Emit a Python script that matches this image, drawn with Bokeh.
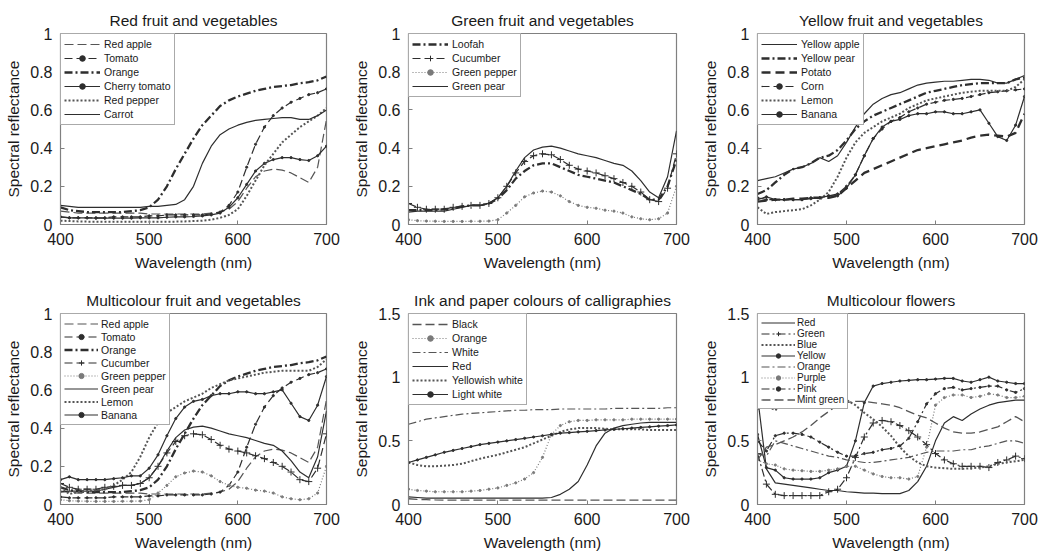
from bokeh.plotting import figure
from bokeh.models import Range1d, FixedTicker, Legend, LegendItem
from bokeh.layouts import row, column
from bokeh.embed import file_html
from bokeh.resources import INLINE

# ---------------- data ----------------
WAVELENGTH = [400, 410, 420, 430, 440, 450, 460, 470, 480, 490, 500, 510, 520, 530, 540, 550,
              560, 570, 580, 590, 600, 610, 620, 630, 640, 650, 660, 670, 680, 690, 700]

X_TICKS = [400, 500, 600, 700]
X_TICK_LABELS = ["400", "500", "600", "700"]
Y_TICKS_A = [0, 0.2, 0.4, 0.6, 0.8, 1]
Y_TICK_LABELS_A = ["0", "0.2", "0.4", "0.6", "0.8", "1"]
Y_TICKS_B = [0, 0.5, 1, 1.5]
Y_TICK_LABELS_B = ["0", "0.5", "1", "1.5"]

# fruit & vegetables
red_apple = [0.07, 0.065, 0.06, 0.06, 0.06, 0.06, 0.06, 0.06, 0.06, 0.06, 0.055, 0.055, 0.055, 0.055, 0.055, 0.055,
             0.055, 0.06, 0.065, 0.08, 0.12, 0.19, 0.25, 0.28, 0.29, 0.285, 0.27, 0.245, 0.22, 0.3, 0.55]
tomato = [0.04, 0.035, 0.035, 0.035, 0.035, 0.035, 0.04, 0.04, 0.04, 0.04, 0.045, 0.045, 0.05, 0.05, 0.05, 0.05,
          0.05, 0.055, 0.065, 0.1, 0.17, 0.3, 0.42, 0.51, 0.57, 0.61, 0.64, 0.66, 0.68, 0.69, 0.71]
orange = [0.09, 0.075, 0.07, 0.065, 0.065, 0.065, 0.065, 0.065, 0.07, 0.075, 0.09, 0.13, 0.2, 0.29, 0.37, 0.45,
          0.52, 0.57, 0.62, 0.65, 0.67, 0.685, 0.7, 0.71, 0.72, 0.725, 0.73, 0.74, 0.745, 0.755, 0.775]
cherry_tomato = [0.04, 0.035, 0.035, 0.035, 0.033, 0.033, 0.033, 0.033, 0.033, 0.035, 0.035, 0.035, 0.038, 0.04, 0.04, 0.042,
                 0.045, 0.05, 0.06, 0.09, 0.14, 0.21, 0.28, 0.32, 0.34, 0.35, 0.35, 0.34, 0.335, 0.36, 0.41]
red_pepper = [0.02, 0.018, 0.016, 0.015, 0.015, 0.015, 0.015, 0.015, 0.015, 0.015, 0.015, 0.015, 0.015, 0.015, 0.016, 0.018,
              0.02, 0.025, 0.035, 0.05, 0.08, 0.15, 0.23, 0.31, 0.37, 0.43, 0.47, 0.51, 0.54, 0.57, 0.61]
carrot = [0.1, 0.095, 0.09, 0.09, 0.09, 0.09, 0.09, 0.09, 0.09, 0.09, 0.095, 0.095, 0.1, 0.105, 0.13, 0.2,
          0.32, 0.41, 0.47, 0.5, 0.52, 0.535, 0.545, 0.55, 0.555, 0.56, 0.56, 0.55, 0.55, 0.57, 0.6]

loofah = [0.075, 0.075, 0.075, 0.075, 0.08, 0.085, 0.095, 0.1, 0.1, 0.11, 0.135, 0.18, 0.24, 0.28, 0.31, 0.32,
          0.32, 0.3, 0.28, 0.26, 0.25, 0.24, 0.23, 0.22, 0.2, 0.18, 0.16, 0.13, 0.13, 0.2, 0.34]
cucumber = [0.11, 0.09, 0.08, 0.08, 0.08, 0.09, 0.095, 0.1, 0.1, 0.11, 0.14, 0.2, 0.27, 0.33, 0.36, 0.37,
            0.365, 0.34, 0.31, 0.29, 0.28, 0.27, 0.255, 0.24, 0.22, 0.2, 0.17, 0.13, 0.12, 0.19, 0.37]
green_pepper = [0.025, 0.02, 0.018, 0.017, 0.016, 0.016, 0.016, 0.017, 0.017, 0.018, 0.025, 0.06, 0.1, 0.145, 0.165, 0.175,
                0.17, 0.15, 0.12, 0.1, 0.09, 0.085, 0.075, 0.07, 0.06, 0.04, 0.03, 0.025, 0.03, 0.06, 0.2]
green_pear = [0.065, 0.07, 0.07, 0.07, 0.07, 0.08, 0.09, 0.1, 0.1, 0.11, 0.14, 0.2, 0.28, 0.35, 0.39, 0.405,
              0.41, 0.4, 0.385, 0.37, 0.36, 0.35, 0.335, 0.32, 0.31, 0.28, 0.23, 0.17, 0.14, 0.25, 0.49]

yellow_apple = [0.23, 0.24, 0.25, 0.27, 0.29, 0.3, 0.32, 0.35, 0.33, 0.36, 0.43, 0.51, 0.58, 0.63, 0.66, 0.68,
                0.69, 0.71, 0.73, 0.74, 0.745, 0.75, 0.75, 0.755, 0.76, 0.76, 0.755, 0.74, 0.74, 0.76, 0.78]
yellow_pear = [0.16, 0.18, 0.22, 0.26, 0.29, 0.3, 0.32, 0.35, 0.36, 0.39, 0.44, 0.5, 0.54, 0.57, 0.59, 0.61,
               0.63, 0.65, 0.67, 0.69, 0.7, 0.71, 0.72, 0.73, 0.735, 0.74, 0.74, 0.74, 0.74, 0.76, 0.77]
potato = [0.12, 0.125, 0.13, 0.13, 0.135, 0.135, 0.14, 0.14, 0.14, 0.15, 0.19, 0.23, 0.27, 0.29, 0.31, 0.33,
          0.35, 0.37, 0.39, 0.4, 0.41, 0.42, 0.43, 0.44, 0.455, 0.465, 0.47, 0.465, 0.46, 0.48, 0.58]
corn = [0.14, 0.13, 0.13, 0.13, 0.13, 0.13, 0.14, 0.14, 0.15, 0.16, 0.2, 0.26, 0.36, 0.45, 0.5, 0.54,
        0.56, 0.59, 0.61, 0.63, 0.64, 0.65, 0.655, 0.66, 0.67, 0.68, 0.69, 0.695, 0.7, 0.705, 0.71]
lemon = [0.09, 0.055, 0.065, 0.07, 0.075, 0.08, 0.1, 0.13, 0.17, 0.25, 0.35, 0.43, 0.48, 0.51, 0.54, 0.56,
         0.58, 0.61, 0.63, 0.65, 0.66, 0.67, 0.68, 0.69, 0.695, 0.7, 0.7, 0.7, 0.7, 0.72, 0.76]
banana = [0.13, 0.145, 0.13, 0.13, 0.13, 0.13, 0.135, 0.14, 0.15, 0.15, 0.19, 0.26, 0.36, 0.45, 0.51, 0.54,
          0.55, 0.57, 0.58, 0.58, 0.59, 0.59, 0.58, 0.58, 0.59, 0.6, 0.53, 0.46, 0.44, 0.52, 0.67]

# calligraphy inks and papers
ink_black = [0.045, 0.04, 0.038, 0.036, 0.035, 0.035, 0.035, 0.035, 0.035, 0.035, 0.035, 0.035, 0.035, 0.035, 0.035, 0.035,
             0.035, 0.035, 0.035, 0.035, 0.035, 0.035, 0.035, 0.035, 0.035, 0.035, 0.035, 0.035, 0.035, 0.035, 0.035]
ink_orange = [0.12, 0.11, 0.105, 0.1, 0.1, 0.1, 0.1, 0.105, 0.11, 0.12, 0.13, 0.15, 0.17, 0.2, 0.25, 0.37,
              0.55, 0.62, 0.65, 0.66, 0.66, 0.665, 0.665, 0.665, 0.665, 0.67, 0.67, 0.67, 0.67, 0.67, 0.67]
ink_white = [0.63, 0.65, 0.67, 0.68, 0.69, 0.7, 0.71, 0.715, 0.72, 0.725, 0.73, 0.735, 0.74, 0.74, 0.745, 0.745,
             0.745, 0.75, 0.75, 0.75, 0.75, 0.75, 0.75, 0.755, 0.755, 0.755, 0.755, 0.755, 0.755, 0.76, 0.76]
ink_red = [0.06, 0.055, 0.05, 0.05, 0.05, 0.05, 0.05, 0.05, 0.05, 0.05, 0.05, 0.05, 0.05, 0.05, 0.05, 0.05,
           0.055, 0.08, 0.12, 0.18, 0.31, 0.46, 0.56, 0.6, 0.62, 0.63, 0.64, 0.645, 0.645, 0.645, 0.645]
ink_yellowish_white = [0.33, 0.31, 0.3, 0.3, 0.305, 0.31, 0.32, 0.34, 0.36, 0.375, 0.39, 0.41, 0.43, 0.45, 0.48, 0.51,
                       0.54, 0.57, 0.59, 0.6, 0.6, 0.6, 0.595, 0.59, 0.59, 0.59, 0.59, 0.585, 0.585, 0.585, 0.585]
ink_light_white = [0.33, 0.35, 0.37, 0.39, 0.41, 0.425, 0.44, 0.455, 0.47, 0.48, 0.49, 0.5, 0.51, 0.52, 0.53, 0.54,
                   0.55, 0.56, 0.565, 0.57, 0.575, 0.58, 0.585, 0.59, 0.595, 0.6, 0.605, 0.61, 0.615, 0.62, 0.625]

# flowers
flower_red = [0.85, 0.28, 0.17, 0.16, 0.15, 0.14, 0.13, 0.12, 0.11, 0.11, 0.1, 0.095, 0.09, 0.09, 0.085, 0.085,
              0.085, 0.11, 0.18, 0.3, 0.5, 0.64, 0.69, 0.66, 0.71, 0.75, 0.78, 0.8, 0.81, 0.82, 0.82]
flower_green = [0.4, 0.16, 0.08, 0.07, 0.07, 0.07, 0.07, 0.07, 0.1, 0.12, 0.21, 0.37, 0.53, 0.64, 0.66, 0.65,
                0.62, 0.58, 0.53, 0.47, 0.4, 0.35, 0.32, 0.3, 0.3, 0.3, 0.29, 0.33, 0.35, 0.38, 0.36]
flower_blue = [0.75, 0.78, 0.74, 0.8, 0.83, 0.84, 0.85, 0.85, 0.84, 0.83, 0.82, 0.78, 0.72, 0.67, 0.61, 0.54,
               0.45, 0.38, 0.33, 0.3, 0.29, 0.285, 0.28, 0.28, 0.285, 0.29, 0.3, 0.32, 0.33, 0.34, 0.35]
flower_yellow = [0.55, 0.29, 0.27, 0.21, 0.2, 0.2, 0.2, 0.21, 0.25, 0.27, 0.3, 0.5, 0.8, 0.93, 0.95, 0.96,
                 0.97, 0.975, 0.98, 0.98, 0.985, 0.99, 0.99, 0.97, 0.96, 0.98, 1.0, 0.97, 0.96, 0.95, 0.95]
flower_orange = [0.4, 0.38, 0.5, 0.48, 0.46, 0.44, 0.42, 0.4, 0.38, 0.37, 0.35, 0.34, 0.33, 0.33, 0.34, 0.35,
                 0.36, 0.37, 0.39, 0.41, 0.42, 0.42, 0.42, 0.43, 0.43, 0.45, 0.46, 0.48, 0.5, 0.5, 0.48]
flower_purple = [0.35, 0.32, 0.31, 0.28, 0.27, 0.265, 0.26, 0.26, 0.27, 0.28, 0.3, 0.3, 0.27, 0.24, 0.22, 0.21,
                 0.21, 0.2, 0.22, 0.45, 0.78, 0.84, 0.86, 0.86, 0.84, 0.85, 0.87, 0.86, 0.84, 0.84, 0.85]
flower_pink = [0.5, 0.42, 0.54, 0.56, 0.56, 0.55, 0.53, 0.49, 0.45, 0.41, 0.38, 0.38, 0.4, 0.41, 0.43, 0.44,
               0.46, 0.52, 0.65, 0.79, 0.87, 0.91, 0.92, 0.9, 0.91, 0.92, 0.93, 0.93, 0.9, 0.88, 0.91]
flower_mint_green = [0.35, 0.45, 0.47, 0.5, 0.53, 0.57, 0.62, 0.68, 0.73, 0.78, 0.8, 0.81, 0.81, 0.8, 0.79, 0.78,
                     0.76, 0.73, 0.7, 0.68, 0.64, 0.6, 0.57, 0.56, 0.56, 0.57, 0.59, 0.61, 0.65, 0.69, 0.65]

# ---------------- styles ----------------
DARK = "#2e2e2e"
MID = "#555555"
LIGHT = "#7a7a7a"
FONT = "Liberation Sans"

S_SOLID = dict(dash="solid", width=1.2, color=DARK, marker=None)
S_SOLID_DOT = dict(dash="solid", width=1.2, color=DARK, marker="circle", msize=2.2)
S_LONG_DASH = dict(dash="9 4", width=1.2, color=MID, marker=None)
S_DASH_DOT_MARK = dict(dash="8 4", width=1.2, color=DARK, marker="circle", msize=2.2)
S_HEAVY_DASHDOT = dict(dash="8 3 2 3", width=2.3, color=DARK, marker=None)
S_HEAVY_DASH = dict(dash="9 5", width=2.3, color=DARK, marker=None)
S_HEAVY_DOT = dict(dash="2 2", width=2.0, color=MID, marker=None)
S_LIGHT_DOT_MARK = dict(dash="1 2", width=1.2, color=LIGHT, marker="circle", msize=2.2)
S_DASH_CROSS = dict(dash="8 4", width=1.2, color=DARK, marker="cross", msize=7)
S_DASHDOT = dict(dash="8 3 2 3", width=1.2, color=MID, marker=None)
S_DASHDOT_CROSS = dict(dash="8 3 2 3", width=1.2, color=DARK, marker="cross", msize=7)
S_DASHDOT_DOT = dict(dash="8 3 2 3", width=1.2, color=DARK, marker="circle", msize=2.2)
S_DASH = dict(dash="9 4", width=1.3, color=MID, marker=None)


def make_panel(title, ylabel, series, yticks, ylabels, ymax, w, h, borders, leg):
    bl, br, bt, bb = borders
    p = figure(width=w, height=h, x_range=Range1d(400, 700), y_range=Range1d(0, ymax),
               output_backend="svg", toolbar_location=None, title=title,
               min_border_left=bl, min_border_right=br, min_border_top=bt, min_border_bottom=bb)
    p.title.align = "center"
    p.title.text_font = FONT
    p.title.text_font_size = "15.5px"
    p.title.text_font_style = "normal"
    p.title.text_color = "#1a1a1a"
    p.title.standoff = 9
    p.xgrid.visible = False
    p.ygrid.visible = False
    p.outline_line_color = "#808080"
    p.outline_line_width = 1.2
    p.background_fill_color = "white"
    p.border_fill_color = "white"

    p.xaxis.ticker = FixedTicker(ticks=X_TICKS)
    p.xaxis.major_label_overrides = dict(zip(X_TICKS, X_TICK_LABELS))
    p.yaxis.ticker = FixedTicker(ticks=yticks)
    p.yaxis.major_label_overrides = dict(zip(yticks, ylabels))
    p.xaxis.axis_label = "Wavelength (nm)"
    p.yaxis.axis_label = ylabel
    for ax in (p.xaxis, p.yaxis):
        ax.major_tick_in = 4
        ax.major_tick_out = 0
        ax.minor_tick_line_color = None
        ax.major_tick_line_color = "#808080"
        ax.axis_line_color = "#808080"
        ax.major_label_text_font = FONT
        ax.major_label_text_font_size = "16px"
        ax.major_label_text_color = "#1a1a1a"
        ax.axis_label_text_font = FONT
        ax.axis_label_text_font_size = "15.5px"
        ax.axis_label_text_font_style = "normal"
        ax.axis_label_text_color = "#1a1a1a"
    p.xaxis.major_label_standoff = 8
    p.xaxis.axis_label_standoff = 6
    p.yaxis.major_label_standoff = 8
    p.yaxis.axis_label_standoff = 5

    items = []
    for label, ys, st in series:
        rs = [p.line(WAVELENGTH, ys, line_color=st["color"], line_width=st["width"], line_dash=st["dash"])]
        if st["marker"]:
            rs.append(p.scatter(WAVELENGTH, ys, marker=st["marker"], size=st["msize"],
                                line_color=st["color"], fill_color=st["color"], line_width=1.0))
        items.append(LegendItem(label=label, renderers=rs))
    legend = Legend(items=items, location="top_left", margin=0, padding=leg["pad"], spacing=0,
                    label_height=leg["row"], glyph_height=leg["row"], glyph_width=leg["gw"],
                    label_standoff=leg["ls"], label_text_font=FONT, label_text_font_size=leg["fs"],
                    label_text_color="#1a1a1a", border_line_color="#555555", border_line_width=1.2,
                    background_fill_color="white", background_fill_alpha=1.0)
    p.add_layout(legend)
    return p


LEG6 = dict(pad=3, row=14, gw=36, ls=4, fs="10.5px")
LEG8 = dict(pad=3, row=13, gw=34, ls=3, fs="10.5px")
LEGF = dict(pad=3, row=11, gw=34, ls=2, fs="10px")

p1 = make_panel("Red fruit and vegetables", "Spectral reflectance", [
    ("Red apple", red_apple, S_LONG_DASH),
    ("Tomato", tomato, S_DASH_DOT_MARK),
    ("Orange", orange, S_HEAVY_DASHDOT),
    ("Cherry tomato", cherry_tomato, S_SOLID_DOT),
    ("Red pepper", red_pepper, S_HEAVY_DOT),
    ("Carrot", carrot, S_SOLID),
], Y_TICKS_A, Y_TICK_LABELS_A, 1, 345, 278, (60, 19, 33, 54), LEG6)

p2 = make_panel("Green fruit and vegetables", "Spectral reflectance", [
    ("Loofah", loofah, S_HEAVY_DASHDOT),
    ("Cucumber", cucumber, S_DASH_CROSS),
    ("Green pepper", green_pepper, S_LIGHT_DOT_MARK),
    ("Green pear", green_pear, S_SOLID),
], Y_TICKS_A, Y_TICK_LABELS_A, 1, 345, 278, (63, 14, 33, 54), LEG6)

p3 = make_panel("Yellow fruit and vegetables", "Spectral reflectance", [
    ("Yellow apple", yellow_apple, S_SOLID),
    ("Yellow pear", yellow_pear, S_HEAVY_DASHDOT),
    ("Potato", potato, S_HEAVY_DASH),
    ("Corn", corn, S_DASH_DOT_MARK),
    ("Lemon", lemon, S_HEAVY_DOT),
    ("Banana", banana, S_SOLID_DOT),
], Y_TICKS_A, Y_TICK_LABELS_A, 1, 351, 278, (67, 17, 33, 54), LEG6)

p4 = make_panel("Multicolour fruit and vegetables", "Spectral reflectance", [
    ("Red apple", red_apple, S_LONG_DASH),
    ("Tomato", tomato, S_DASH_DOT_MARK),
    ("Orange", orange, S_HEAVY_DASHDOT),
    ("Cucumber", cucumber, S_DASH_CROSS),
    ("Green pepper", green_pepper, S_LIGHT_DOT_MARK),
    ("Green pear", green_pear, S_SOLID),
    ("Lemon", lemon, S_HEAVY_DOT),
    ("Banana", banana, S_SOLID_DOT),
], Y_TICKS_A, Y_TICK_LABELS_A, 1, 345, 278, (60, 19, 35, 51), LEG8)

p5 = make_panel("Ink and paper colours of calligraphies", "Sepctral reflectance", [
    ("Black", ink_black, S_DASH),
    ("Orange", ink_orange, S_LIGHT_DOT_MARK),
    ("White", ink_white, S_DASHDOT),
    ("Red", ink_red, S_SOLID),
    ("Yellowish white", ink_yellowish_white, S_HEAVY_DOT),
    ("Light white", ink_light_white, S_SOLID_DOT),
], Y_TICKS_B, Y_TICK_LABELS_B, 1.5, 345, 278, (63, 14, 35, 52), LEG6)

p6 = make_panel("Multicolour flowers", "Spectral reflectance", [
    ("Red", flower_red, S_SOLID),
    ("Green", flower_green, S_DASHDOT_CROSS),
    ("Blue", flower_blue, S_HEAVY_DOT),
    ("Yellow", flower_yellow, S_SOLID_DOT),
    ("Orange", flower_orange, S_DASHDOT),
    ("Purple", flower_purple, S_LIGHT_DOT_MARK),
    ("Pink", flower_pink, S_DASHDOT_DOT),
    ("Mint green", flower_mint_green, S_DASH),
], Y_TICKS_B, Y_TICK_LABELS_B, 1.5, 351, 278, (67, 17, 32, 51), LEGF)

layout = column(row(p1, p2, p3), row(p4, p5, p6))

with open("out.html", "w") as f:
    f.write(file_html(layout, INLINE, title="Spectral reflectance"))
